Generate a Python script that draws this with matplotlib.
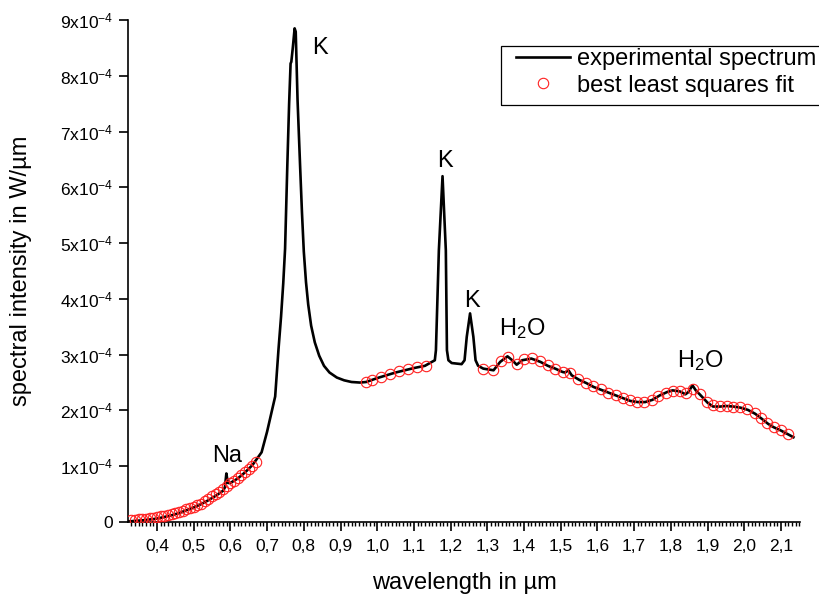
import matplotlib
matplotlib.use("Agg")
import matplotlib.pyplot as plt
from matplotlib.patches import Rectangle
from matplotlib.ticker import MultipleLocator

plt.rcParams["font.family"] = ["Liberation Sans", "DejaVu Sans"]
plt.rcParams["mathtext.fontset"] = "custom"
plt.rcParams["mathtext.rm"] = "Liberation Sans"
plt.rcParams["mathtext.it"] = "Liberation Sans"
plt.rcParams["mathtext.bf"] = "Liberation Sans:bold"

SCALE = 1e-4

# experimental spectrum (wavelength in um, intensity in 1e-4 W/um)
spec_x = [0.322, 0.34, 0.36, 0.38, 0.40, 0.42, 0.44, 0.46, 0.48, 0.50,
          0.52, 0.54, 0.56, 0.58, 0.585, 0.589, 0.593, 0.60, 0.62, 0.64,
          0.66, 0.685, 0.70, 0.722, 0.731, 0.738, 0.744, 0.749, 0.755, 0.760,
          0.764, 0.766, 0.770, 0.775, 0.778, 0.783, 0.790, 0.795, 0.800, 0.806,
          0.812, 0.820, 0.830, 0.842, 0.855, 0.870, 0.890, 0.910, 0.930, 0.953,
          0.97, 1.00, 1.05, 1.10, 1.13,
          1.157, 1.160, 1.168, 1.178, 1.187, 1.190, 1.194, 1.203, 1.230, 1.238,
          1.244, 1.253, 1.262, 1.268, 1.275, 1.289, 1.317, 1.335, 1.355, 1.368,
          1.380, 1.395, 1.42, 1.445, 1.465, 1.485, 1.505, 1.512, 1.521, 1.53,
          1.55, 1.57, 1.59, 1.61, 1.63, 1.65, 1.67, 1.69, 1.71, 1.73,
          1.75, 1.77, 1.79, 1.805, 1.825, 1.84, 1.848, 1.859, 1.868, 1.88,
          1.90, 1.915, 1.935, 1.95, 1.97, 1.99, 2.01, 2.03, 2.05, 2.065,
          2.08, 2.10, 2.12, 2.134]
spec_y = [0.01, 0.02, 0.03, 0.045, 0.06, 0.09, 0.12, 0.16, 0.21, 0.26,
          0.32, 0.39, 0.47, 0.56, 0.62, 0.87, 0.70, 0.70, 0.78, 0.89,
          1.02, 1.25, 1.62, 2.25, 3.09, 3.68, 4.28, 4.90, 6.37, 7.50,
          8.22, 8.25, 8.50, 8.85, 8.79, 7.56, 6.37, 5.55, 4.85, 4.30,
          3.90, 3.52, 3.22, 2.98, 2.80, 2.68, 2.59, 2.54, 2.51, 2.50,
          2.51, 2.58, 2.68, 2.76, 2.80,
          2.90, 3.08, 4.87, 6.20, 4.87, 3.08, 2.90, 2.85, 2.83, 2.90,
          3.32, 3.74, 3.32, 2.90, 2.80, 2.75, 2.72, 2.87, 2.97, 2.90,
          2.82, 2.90, 2.93, 2.87, 2.80, 2.75, 2.69, 2.68, 2.72, 2.63,
          2.55, 2.49, 2.42, 2.37, 2.32, 2.27, 2.22, 2.17, 2.15, 2.15,
          2.19, 2.27, 2.33, 2.36, 2.34, 2.29, 2.33, 2.45, 2.36, 2.28,
          2.14, 2.07, 2.07, 2.08, 2.07, 2.05, 2.01, 1.94, 1.84, 1.76,
          1.70, 1.64, 1.57, 1.52]

# best least squares fit points
fit_x = [0.33, 0.34, 0.35, 0.36, 0.37, 0.38, 0.39, 0.40, 0.41, 0.42,
         0.43, 0.44, 0.45, 0.46, 0.47, 0.48, 0.49, 0.50, 0.51, 0.52,
         0.53, 0.54, 0.55, 0.56, 0.57, 0.58, 0.59, 0.60, 0.61, 0.62,
         0.63, 0.64, 0.65, 0.66, 0.67,
         0.969, 0.986, 1.010, 1.035, 1.059, 1.084, 1.108, 1.133,
         1.288, 1.315, 1.337, 1.357, 1.380, 1.400, 1.421, 1.444, 1.466, 1.484,
         1.505, 1.525, 1.548, 1.569, 1.587, 1.609, 1.630, 1.652, 1.671, 1.689,
         1.709, 1.727, 1.748, 1.766, 1.787, 1.805, 1.825, 1.841, 1.861, 1.879,
         1.899, 1.916, 1.934, 1.952, 1.970, 1.989, 2.008, 2.029, 2.047, 2.063,
         2.081, 2.099, 2.120]
fit_y = [0.03, 0.04, 0.045, 0.05, 0.06, 0.065, 0.075, 0.085, 0.10, 0.115,
         0.13, 0.145, 0.165, 0.185, 0.205, 0.225, 0.25, 0.275, 0.30, 0.33,
         0.37, 0.41, 0.46, 0.50, 0.54, 0.59, 0.64, 0.70, 0.74, 0.79,
         0.84, 0.89, 0.95, 1.01, 1.07,
         2.51, 2.545, 2.60, 2.65, 2.70, 2.74, 2.77, 2.80,
         2.75, 2.73, 2.88, 2.95, 2.84, 2.92, 2.94, 2.88, 2.81, 2.75,
         2.69, 2.67, 2.56, 2.50, 2.43, 2.38, 2.32, 2.28, 2.22, 2.18,
         2.16, 2.16, 2.19, 2.26, 2.32, 2.35, 2.35, 2.31, 2.38, 2.30,
         2.16, 2.09, 2.08, 2.08, 2.07, 2.06, 2.02, 1.96, 1.87, 1.77,
         1.70, 1.65, 1.58]

# line annotations: label, x, baseline y (1e-4)
notes = [("K", 0.844, 8.39), ("K", 1.185, 6.36), ("K", 1.258, 3.85),
         ("Na", 0.591, 1.08), ("H$_2$O", 1.395, 3.35), ("H$_2$O", 1.880, 2.78)]

xtick_vals = [0.4, 0.5, 0.6, 0.7, 0.8, 0.9, 1.0, 1.1, 1.2, 1.3, 1.4, 1.5,
              1.6, 1.7, 1.8, 1.9, 2.0, 2.1]
xtick_labels = ["0,4", "0,5", "0,6", "0,7", "0,8", "0,9", "1,0", "1,1", "1,2",
                "1,3", "1,4", "1,5", "1,6", "1,7", "1,8", "1,9", "2,0", "2,1"]
ytick_vals = [0, 1, 2, 3, 4, 5, 6, 7, 8, 9]
ytick_labels = ["0"] + [f"{v}x10$^{{-4}}$" for v in ytick_vals[1:]]

W, H = 819, 597
fig = plt.figure(figsize=(W / 100, H / 100), dpi=100)
ax = fig.add_axes([128 / W, 1 - 522 / H, (800 - 128) / W, (522 - 20) / H])

ax.plot(spec_x, [v * SCALE for v in spec_y], color="black", lw=1.9,
        label="experimental spectrum", zorder=2)
ax.plot(fit_x, [v * SCALE for v in fit_y], ls="none", marker="o", ms=7.5,
        mfc="none", mec="#ff2020", mew=0.8, label="best least squares fit",
        zorder=3)

for text, x, y in notes:
    ax.text(x, y * SCALE, text, fontsize=17, ha="center", va="baseline")

ax.set_xlim(0.321, 2.152)
ax.set_ylim(0, 9e-4)
ax.set_xticks(xtick_vals, xtick_labels)
ax.xaxis.set_minor_locator(MultipleLocator(0.01))
ax.set_yticks([v * SCALE for v in ytick_vals], ytick_labels)

for side in ("top", "right"):
    ax.spines[side].set_visible(False)
for side in ("left", "bottom"):
    ax.spines[side].set_linewidth(1.2)

ax.tick_params(axis="both", which="major", direction="out", length=6.5,
               width=1.2, labelsize=12.5)
ax.tick_params(axis="x", which="major", pad=6)
ax.tick_params(axis="y", which="major", pad=4)
ax.tick_params(axis="x", which="minor", direction="out", length=3, width=1.0)

ax.set_xlabel("wavelength in µm", fontsize=17, labelpad=13)
ax.set_ylabel("spectral intensity in W/µm", fontsize=17, labelpad=20)

# legend without its own frame; the box is drawn separately so it can run
# off the right edge like the original
leg = ax.legend(loc="upper left", bbox_to_anchor=(516 / W, 1 - 48 / H),
                bbox_transform=fig.transFigure, fontsize=17, frameon=False,
                borderpad=0.0, labelspacing=0.2, handlelength=2.3,
                handletextpad=0.3, borderaxespad=0)
fig.patches.append(Rectangle((501 / W, 1 - 105 / H), 340 / W, 59 / H,
                             transform=fig.transFigure, fill=False,
                             edgecolor="black", lw=0.9, clip_on=False))

fig.savefig("out.png", dpi=100)
